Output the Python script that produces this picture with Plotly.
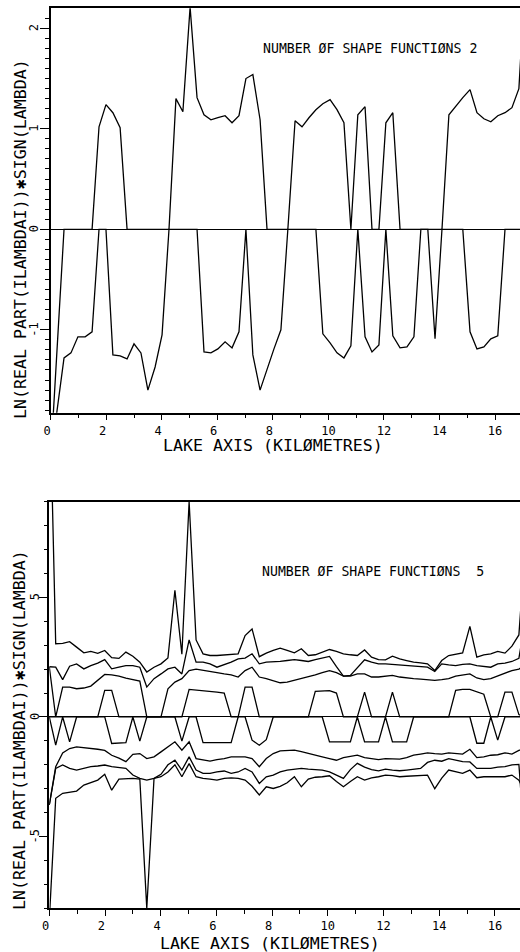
import plotly.graph_objects as go

# ---------------- data ----------------
X_KM = [0.0, 0.23, 0.48, 0.73, 0.98, 1.24, 1.49, 1.74, 1.99, 2.24, 2.50, 2.75, 3.00, 3.25,
        3.50, 3.76, 4.01, 4.26, 4.51, 4.76, 5.02, 5.27, 5.52, 5.77, 6.02, 6.28, 6.53, 6.78,
        7.03, 7.28, 7.54, 7.79, 8.04, 8.29, 8.54, 8.80, 9.05, 9.30, 9.55, 9.80, 10.06, 10.31,
        10.56, 10.81, 11.06, 11.32, 11.57, 11.82, 12.07, 12.32, 12.58, 12.83, 13.08, 13.33,
        13.58, 13.84, 14.09, 14.34, 14.59, 14.84, 15.10, 15.35, 15.60, 15.85, 16.10, 16.36,
        16.61, 16.86, 17.11]

# panel 1: two shape functions
TOP_POS = [-2.28, -1.19, 0, 0, 0, 0, 0, 1.02, 1.24, 1.16, 1.01, 0, 0, 0, 0, 0, 0, 0,
           1.30, 1.17, 2.21, 1.31, 1.14, 1.09, 1.11, 1.13, 1.06, 1.13, 1.50, 1.54, 1.09,
           0, 0, 0, 0, 1.08, 1.02, 1.11, 1.19, 1.25, 1.29, 1.19, 1.06, 0, 1.14, 1.22, 0, 0,
           1.06, 1.16, 0, 0, 0, 0, 0, 0, 0, 1.14, 1.23, 1.31, 1.39, 1.16, 1.10, 1.07, 1.13,
           1.16, 1.21, 1.40, 2.6]
TOP_NEG = [-2.28, -1.80, -1.28, -1.23, -1.07, -1.07, -1.02, 0, 0, -1.25, -1.26, -1.29,
           -1.14, -1.23, -1.60, -1.37, -1.05, 0, 0, 0, 0, 0, -1.22, -1.23, -1.19, -1.12,
           -1.18, -1.02, 0, -1.25, -1.60, -1.39, -1.19, -1.00, 0, 0, 0, 0, 0, -1.04, -1.13,
           -1.23, -1.28, -1.16, 0, -1.07, -1.22, -1.15, 0, -1.06, -1.18, -1.17, -1.07, 0, 0,
           -1.09, 0, 0, 0, 0, -1.02, -1.19, -1.17, -1.09, -1.06, 0, 0, 0, 0]

# panel 2: five shape functions
BOT_U1 = [14.5, 3.06, 3.08, 3.15, 2.92, 2.68, 2.74, 2.66, 2.78, 2.48, 2.45, 2.71, 2.54, 2.29,
          1.88, 2.08, 2.22, 2.47, 5.3, 2.62, 9.0, 3.22, 2.64, 2.57, 2.57, 2.6, 2.6, 2.64, 3.4,
          3.68, 2.52, 2.67, 2.78, 2.88, 2.78, 2.68, 2.85, 2.57, 2.6, 2.71, 2.82, 2.74, 2.64,
          2.6, 2.57, 2.8, 2.5, 2.4, 2.39, 2.54, 2.43, 2.36, 2.29, 2.26, 2.22, 1.94, 2.36,
          2.57, 2.64, 2.68, 3.79, 2.5, 2.6, 2.64, 2.74, 2.67, 2.96, 3.43, 7.5]
BOT_U2 = [2.1, 2.08, 1.56, 2.12, 2.22, 2.01, 2.15, 2.25, 2.4, 2.01, 2.08, 2.15, 2.15, 2.08,
          1.25, 1.6, 1.8, 2.01, 2.08, 1.8, 3.22, 2.29, 2.29, 2.22, 2.08, 2.18, 2.29, 2.43,
          2.46, 2.64, 2.22, 2.29, 2.29, 2.32, 2.36, 2.4, 2.36, 2.32, 2.4, 2.46, 2.53, 2.1,
          1.71, 1.74, 2.05, 2.39, 2.29, 2.22, 2.22, 2.2, 2.15, 2.13, 2.11, 2.1, 2.08, 1.9,
          2.22, 2.18, 2.15, 2.2, 2.22, 2.15, 2.12, 2.08, 2.22, 2.25, 2.32, 2.45, 4.2]
BOT_U3 = [2.1, 0, 1.25, 1.25, 1.18, 1.21, 1.29, 1.53, 1.78, 1.76, 1.71, 1.62, 1.56, 1.5, 0,
          0, 0, 1.18, 1.46, 1.6, 1.94, 2.0, 1.94, 1.88, 1.85, 1.8, 1.76, 1.67, 1.94, 2.08,
          1.67, 1.6, 1.53, 1.43, 1.46, 1.53, 1.6, 1.67, 1.76, 1.85, 1.94, 1.85, 1.71, 1.71,
          1.8, 1.8, 1.67, 1.67, 1.71, 1.74, 1.67, 1.62, 1.6, 1.58, 1.56, 1.53, 1.56, 1.6,
          1.71, 1.76, 1.8, 1.63, 1.56, 1.6, 1.71, 1.8, 1.94, 2.0, 2.2]
BOT_U4 = [0, 0, 0, 0, 0, 0, 0, 0, 1.11, 1.11, 0, 0, 0, 0, 0, 0, 0, 0, 0, 0, 1.15, 1.13, 1.1,
          1.06, 1.04, 1.0, 0, 0, 1.25, 1.25, 0, 0, 0, 0, 0, 0, 0, 0, 1.07, 1.1, 1.1, 1.0, 0,
          0, 0, 1.04, 0, 0, 0, 1.04, 0, 0, 0, 0, 0, 0, 0, 0, 1.11, 1.15, 1.15, 1.05, 0.95,
          0, 0, 1.04, 1.04, 0.1, 0]
BOT_D4 = [0, -1.18, 0, -1.04, 0, 0, 0, 0, 0, -1.11, -1.08, -1.07, 0, -1.01, 0, 0, 0, 0, 0,
          -1.01, 0, 0, -1.07, -1.07, -1.07, -1.07, -1.07, 0, 0, -0.97, -1.18, -0.95, 0, 0,
          0, 0, 0, 0, 0, 0, -1.04, -1.04, -1.04, -1.04, 0, -1.04, -1.04, -1.04, 0, -1.04,
          -1.04, -1.04, 0, 0, 0, 0, 0, 0, 0, 0, 0, -1.1, -1.1, 0, -0.97, 0, 0, 0, 0]
BOT_D3 = [-3.68, -2.08, -1.5, -1.32, -1.25, -1.28, -1.32, -1.35, -1.4, -1.6, -1.72, -1.87,
          -1.56, -1.53, -1.74, -1.67, -1.46, -1.25, -1.04, -1.39, -1.04, -1.74, -1.81, -1.85,
          -1.78, -1.74, -1.67, -1.67, -1.67, -1.74, -2.08, -1.74, -1.53, -1.42, -1.39, -1.39,
          -1.45, -1.53, -1.6, -1.67, -1.74, -1.81, -1.7, -1.65, -1.6, -1.7, -1.74, -1.78,
          -1.74, -1.74, -1.76, -1.7, -1.6, -1.55, -1.5, -1.53, -1.55, -1.5, -1.52, -1.55,
          -1.35, -1.7, -1.67, -1.6, -1.58, -1.5, -1.55, -1.4, -1.3]
BOT_D2 = [-3.68, -2.15, -2.01, -2.15, -2.22, -2.15, -2.08, -2.05, -2.01, -2.08, -2.1, -2.15,
          -2.43, -2.57, -2.64, -2.57, -2.4, -2.0, -1.81, -2.22, -1.67, -2.22, -2.36, -2.36,
          -2.3, -2.26, -2.36, -2.3, -2.15, -2.3, -2.78, -2.5, -2.43, -2.3, -2.22, -2.2,
          -2.15, -2.18, -2.2, -2.22, -2.3, -2.45, -2.57, -2.2, -1.94, -2.1, -2.2, -2.25,
          -2.18, -2.22, -2.25, -2.22, -2.18, -2.15, -1.9, -1.81, -1.85, -1.74, -1.8, -1.87,
          -1.88, -2.15, -2.15, -2.15, -2.1, -2.08, -2.0, -1.98, -6.0]
BOT_D1 = [-8.5, -3.4, -3.19, -3.15, -3.1, -2.85, -2.75, -2.64, -2.4, -3.06, -2.6, -2.57,
          -2.57, -2.6, -8.0, -2.57, -2.5, -2.3, -2.0, -2.5, -1.95, -2.5, -2.57, -2.6, -2.64,
          -2.57, -2.55, -2.57, -2.64, -2.9, -3.26, -2.92, -2.99, -2.9, -2.75, -2.5, -2.92,
          -2.6, -2.52, -2.5, -2.46, -2.7, -2.92, -2.7, -2.5, -2.64, -2.55, -2.5, -2.43,
          -2.45, -2.5, -2.48, -2.46, -2.43, -2.43, -3.0, -2.56, -2.22, -2.3, -2.36, -2.22,
          -2.54, -2.5, -2.5, -2.5, -2.5, -2.43, -2.64, -3.2]

X_TICKS = [0, 2, 4, 6, 8, 10, 12, 14, 16]
X_TICKTEXT = ["0\u00a0", "2\u00a0", "4\u00a0", "6\u00a0", "8\u00a0", "10", "12", "14", "16"]
Y1_TICKS = [-1, 0, 1, 2]
Y1_TICKTEXT = ["-1", "0", "1", "2"]
Y2_TICKS = [-5, 0, 5]
Y2_TICKTEXT = ["-5", "0", "5"]

Y_TITLE = "LN(REAL PART(ILAMBDAI))\u2731SIGN(LAMBDA)"
X_TITLE = "LAKE AXIS (KIL\u00d8METRES)"
NOTE_TOP = "NUMBER \u00d8F SHAPE FUNCTI\u00d8NS 2"
NOTE_BOT = "NUMBER \u00d8F SHAPE FUNCTI\u00d8NS  5"

# ---------------- figure ----------------
W, H = 520, 952
FONT = "DejaVu Sans Mono"
LINE = dict(color="black", width=1.3)

fig = go.Figure()
for ys in (TOP_POS, TOP_NEG):
    fig.add_trace(go.Scatter(x=X_KM, y=ys, mode="lines", line=LINE,
                             xaxis="x", yaxis="y", showlegend=False, hoverinfo="skip"))
for ys in (BOT_U1, BOT_U2, BOT_U3, BOT_U4, BOT_D4, BOT_D3, BOT_D2, BOT_D1):
    fig.add_trace(go.Scatter(x=X_KM, y=ys, mode="lines", line=LINE,
                             xaxis="x2", yaxis="y2", showlegend=False, hoverinfo="skip"))


def xax(domain, anchor):
    return dict(domain=domain, anchor=anchor, range=[0, 16.9], showgrid=False,
                zeroline=False, showline=True, linecolor="black", linewidth=1.5,
                mirror=True, ticks="outside", ticklen=6, tickwidth=1.2, tickcolor="black",
                tickmode="array", tickvals=X_TICKS, ticktext=X_TICKTEXT,
                tickfont=dict(family=FONT, size=12, color="black"),
                minor=dict(tickmode="linear", tick0=0, dtick=1, ticks="outside",
                           ticklen=4, tickwidth=1.1, tickcolor="black"))


def yax(domain, anchor, rng, tv, minor_dt):
    return dict(domain=domain, anchor=anchor, range=rng, showgrid=False,
                zeroline=True, zerolinecolor="black", zerolinewidth=1.4,
                showline=True, linecolor="black", linewidth=1.5,
                ticks="outside", ticklen=9, tickwidth=1.2, tickcolor="black",
                tickmode="array", tickvals=tv, showticklabels=False,
                minor=dict(tickmode="linear", tick0=0, dtick=minor_dt, ticks="outside",
                           ticklen=4, tickwidth=1.1, tickcolor="black"))


def py(v):
    return 1 - v / H


def px(v):
    return v / W


ann_font_big = dict(family=FONT, size=16.6, color="black")
ann_font_small = dict(family=FONT, size=13.2, color="black")
tick_font = dict(family=FONT, size=12, color="black")

annotations = [
    dict(text=Y_TITLE, x=px(20), y=py(239), xref="paper", yref="paper",
         textangle=-90, showarrow=False, font=ann_font_big,
         xanchor="center", yanchor="middle"),
    dict(text=X_TITLE, x=px(272.5), y=py(445), xref="paper", yref="paper",
         showarrow=False, font=ann_font_big, xanchor="center", yanchor="middle"),
    dict(text=NOTE_TOP, x=px(261), y=py(48.3), xref="paper", yref="paper",
         showarrow=False, font=ann_font_small, xanchor="left", yanchor="middle"),
    dict(text=Y_TITLE, x=px(19), y=py(730), xref="paper", yref="paper",
         textangle=-90, showarrow=False, font=ann_font_big,
         xanchor="center", yanchor="middle"),
    dict(text=X_TITLE, x=px(270), y=py(943), xref="paper", yref="paper",
         showarrow=False, font=ann_font_big, xanchor="center", yanchor="middle"),
    dict(text=NOTE_BOT, x=px(260), y=py(571), xref="paper", yref="paper",
         showarrow=False, font=ann_font_small, xanchor="left", yanchor="middle"),
]
# rotated y tick labels, placed on the axes' own value scale
for v, t in zip(Y1_TICKS, Y1_TICKTEXT):
    annotations.append(dict(text=t, x=px(34), y=v, xref="paper", yref="y",
                            textangle=-90, showarrow=False, font=tick_font,
                            xanchor="center", yanchor="middle"))
for v, t in zip(Y2_TICKS, Y2_TICKTEXT):
    annotations.append(dict(text=t, x=px(35), y=v, xref="paper", yref="y2",
                            textangle=-90, showarrow=False, font=tick_font,
                            xanchor="center", yanchor="middle"))

fig.update_layout(
    width=W, height=H,
    margin=dict(l=0, r=0, t=0, b=0, autoexpand=False),
    paper_bgcolor="white", plot_bgcolor="white",
    xaxis=xax([px(50.7), 1.0], "y"),
    yaxis=yax([py(412.7), py(8.3)], "x", [-1.825, 2.199], Y1_TICKS, 0.1),
    xaxis2=xax([px(49.3), 1.0], "y2"),
    yaxis2=yax([py(908.3), py(501.7)], "x2", [-8.0, 9.0], Y2_TICKS, 1),
    annotations=annotations,
)

fig.write_html(
    "out.html",
    config={"displayModeBar": False},
    post_script="document.body.style.margin='0';document.body.style.overflow='hidden';",
)
